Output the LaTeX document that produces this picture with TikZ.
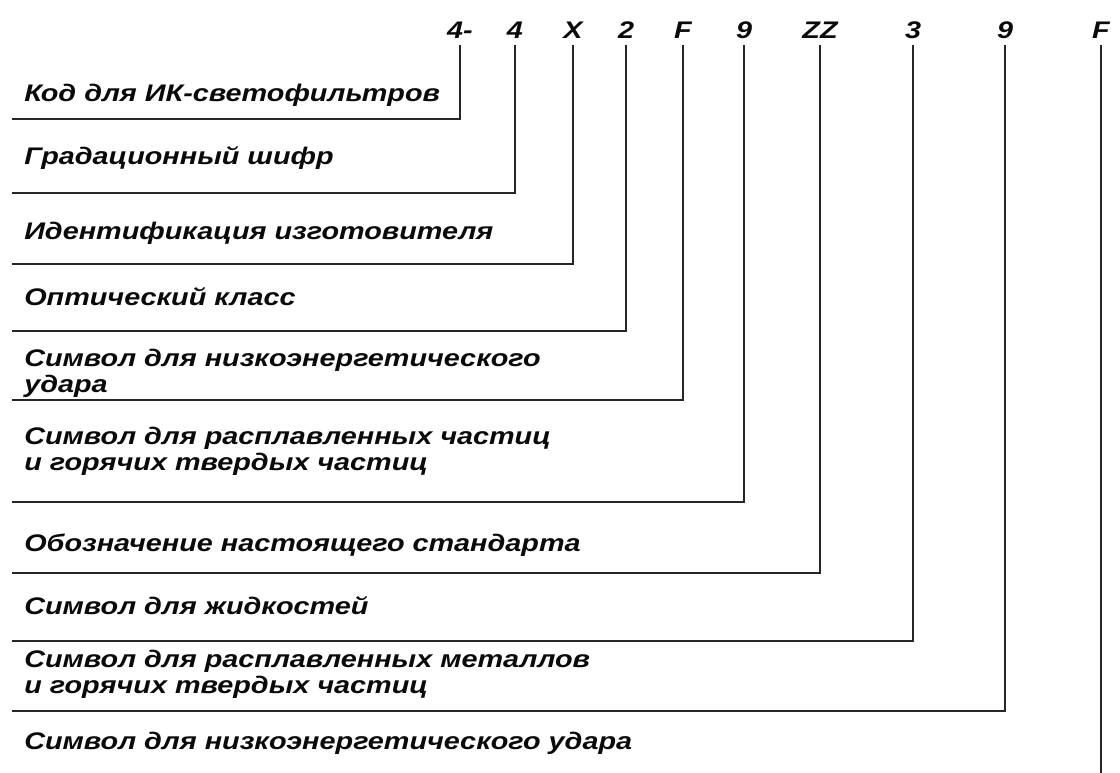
\documentclass[tikz,border=0pt]{standalone}
\usepackage{fontspec}
\setmainfont{Liberation Sans}
\newfontfamily\markfont[FakeStretch=1.2]{Liberation Sans}
\usetikzlibrary{positioning}
\definecolor{markline}{HTML}{262626}
\definecolor{marktext}{HTML}{0A0A0A}
\tikzset{
  code/.style={font=\markfont\fontsize{18}{19.5}\selectfont\bfseries\itshape, text=marktext,
               inner sep=0pt, anchor=base},
  caption/.style={font=\markfont\fontsize{18}{19.5}\selectfont\bfseries\itshape, text=marktext,
                  inner sep=0pt, anchor=base west, align=left},
  lead/.style={draw=markline, line width=1.5pt},
}

\begin{document}
\begin{tikzpicture}[x=0.75pt, y=-0.75pt]
\useasboundingbox (0,0) rectangle (1120,772);

% marking string
\node[code] (c1)  at (460,38)  {4-};
\node[code] (c2)  at (515,38)  {4};
\node[code] (c3)  at (573,38)  {X};
\node[code] (c4)  at (626,38)  {2};
\node[code] (c5)  at (683,38)  {F};
\node[code] (c6)  at (744,38)  {9};
\node[code] (c7)  at (820,38)  {ZZ};
\node[code] (c8)  at (913,38)  {3};
\node[code] (c9)  at (1005,38) {9};
\node[code] (c10) at (1101,38) {F};

% explanations (two-line ones sit on their last baseline)
\node[caption] (l1)  at (24,101) {Код для ИК-светофильтров};
\node[caption] (l2)  at (24,164) {Градационный шифр};
\node[caption] (l3)  at (24,239) {Идентификация изготовителя};
\node[caption] (l4)  at (24,305) {Оптический класс};
\node[caption] (l5)  at (24,392) {Символ для низкоэнергетического\\удара};
\node[caption] (l6)  at (24,470) {Символ для расплавленных частиц\\и горячих твердых частиц};
\node[caption] (l7)  at (24,551) {Обозначение настоящего стандарта};
\node[caption] (l8)  at (24,614) {Символ для жидкостей};
\node[caption] (l9)  at (24,693) {Символ для расплавленных металлов\\и горячих твердых частиц};
\node[caption] (l10) at (24,749) {Символ для низкоэнергетического удара};

% left ends of the leaders
\coordinate (e1)  at (12,119);
\coordinate (e2)  at (12,193);
\coordinate (e3)  at (12,264);
\coordinate (e4)  at (12,331);
\coordinate (e5)  at (12,400);
\coordinate (e6)  at (12,502);
\coordinate (e7)  at (12,573);
\coordinate (e8)  at (12,641);
\coordinate (e9)  at (12,711);
\coordinate (e10) at (12,778);

\draw[lead] ([yshift=-5pt]c1.base)  |- (e1);
\draw[lead] ([yshift=-5pt]c2.base)  |- (e2);
\draw[lead] ([yshift=-5pt]c3.base)  |- (e3);
\draw[lead] ([yshift=-5pt]c4.base)  |- (e4);
\draw[lead] ([yshift=-5pt]c5.base)  |- (e5);
\draw[lead] ([yshift=-5pt]c6.base)  |- (e6);
\draw[lead] ([yshift=-5pt]c7.base)  |- (e7);
\draw[lead] ([yshift=-5pt]c8.base)  |- (e8);
\draw[lead] ([yshift=-5pt]c9.base)  |- (e9);
\draw[lead] ([yshift=-5pt]c10.base) |- (e10);

\end{tikzpicture}
\end{document}
